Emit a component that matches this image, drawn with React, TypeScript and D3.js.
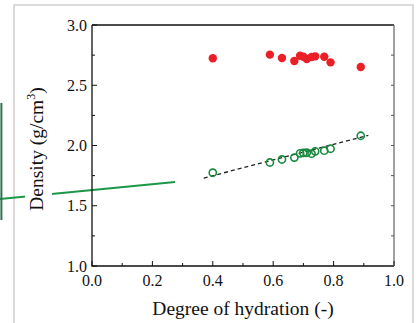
import React, { useEffect, useRef } from 'react';
import * as d3 from 'd3';

// degree of hydration for each sample
const hydration = [0.4, 0.589, 0.629, 0.67, 0.689, 0.7, 0.711, 0.727, 0.739, 0.769, 0.79, 0.89];
// solid (red) and bulk (green) density, g/cm3
const solidDensity = [2.724, 2.754, 2.726, 2.701, 2.745, 2.737, 2.718, 2.734, 2.74, 2.737, 2.69, 2.651];
const bulkDensity = [1.774, 1.859, 1.884, 1.9, 1.935, 1.938, 1.94, 1.932, 1.952, 1.957, 1.973, 2.081];
// linear fit through bulk density
const fitX = [0.37, 0.915];
const fitY = [1.73, 2.085];
// stray green line from the neighbouring panel
const strayX = [-0.305, 0.275];
const strayY = [1.556, 1.697];
const strayBarX = [-0.3, -0.3];
const strayBarY = [2.353, 1.382];

const xTicks = [0, 0.2, 0.4, 0.6, 0.8, 1.0];
const xMinor = [0.1, 0.3, 0.5, 0.7, 0.9];
const yTicks = [1.0, 1.5, 2.0, 2.5, 3.0];
const yMinor = [1.25, 1.75, 2.25, 2.75];

const App = () => {
  const ref = useRef(null);

  useEffect(() => {
    d3.select(ref.current).selectAll('*').remove();

    const W = 419;
    const H = 323;
    const margin = { top: 25, right: 25, bottom: 57, left: 92 };
    const width = W - margin.left - margin.right;
    const height = H - margin.top - margin.bottom;
    const font = '"Liberation Serif", "Times New Roman", serif';

    const svg = d3
      .select(ref.current)
      .append('svg')
      .attr('width', W)
      .attr('height', H)
      .style('position', 'absolute')
      .style('left', 0)
      .style('top', 0)
      .style('background', '#fff');

    const x = d3.scaleLinear().domain([0, 1]).range([margin.left, margin.left + width]);
    const y = d3.scaleLinear().domain([1, 3]).range([margin.top + height, margin.top]);

    // panel frame
    svg
      .append('path')
      .attr('d', `M14,${H + 2} V5 H413 V${H + 2}`)
      .attr('fill', 'none')
      .attr('stroke', '#cfcfcf')
      .attr('stroke-width', 1.5);

    // stray lines
    const line = d3.line<[number, number]>().x((d) => x(d[0])).y((d) => y(d[1]));
    svg
      .append('path')
      .attr('d', line(strayX.map((v, i) => [v, strayY[i]])))
      .attr('stroke', '#1b9747')
      .attr('stroke-width', 2)
      .attr('fill', 'none');
    svg
      .append('path')
      .attr('d', line(strayBarX.map((v, i) => [v, strayBarY[i]])))
      .attr('stroke', '#2f7150')
      .attr('stroke-width', 2)
      .attr('fill', 'none');

    // y title with white backing
    svg.append('rect').attr('x', 25).attr('y', 80).attr('width', 27).attr('height', 140).attr('fill', '#fff');
    const yt = svg
      .append('text')
      .attr('transform', `translate(43,149) rotate(-90)`)
      .attr('text-anchor', 'middle')
      .style('font-family', font)
      .style('font-size', '19.5px')
      .attr('fill', '#111');
    yt.append('tspan').text('Density (g/cm');
    yt.append('tspan').attr('dy', -8).style('font-size', '12px').text('3');
    yt.append('tspan').attr('dy', 8).text(')');

    // axes box
    const x0 = x(0), x1 = x(1), y0 = y(1), y1 = y(3);
    svg.append('path').attr('d', `M${x0},${y1} H${x1}`).attr('stroke', '#111').attr('stroke-width', 1.3);
    svg.append('path').attr('d', `M${x0},${y1} V${y0} H${x1}`).attr('fill', 'none').attr('stroke', '#111').attr('stroke-width', 1.3);
    svg.append('path').attr('d', `M${x1},${y1} V${y0}`).attr('stroke', '#888').attr('stroke-width', 1.6);

    // ticks
    xTicks.forEach((t) => {
      svg.append('line').attr('x1', x(t)).attr('x2', x(t)).attr('y1', y0).attr('y2', y0 - 5).attr('stroke', '#111');
    });
    xMinor.forEach((t) => {
      svg.append('line').attr('x1', x(t)).attr('x2', x(t)).attr('y1', y0).attr('y2', y0 - 3).attr('stroke', '#111');
    });
    yTicks.forEach((t) => {
      svg.append('line').attr('x1', x0).attr('x2', x0 + 5).attr('y1', y(t)).attr('y2', y(t)).attr('stroke', '#111');
      svg.append('line').attr('x1', x1).attr('x2', x1 - 3).attr('y1', y(t)).attr('y2', y(t)).attr('stroke', '#555');
    });
    yMinor.forEach((t) => {
      svg.append('line').attr('x1', x0).attr('x2', x0 + 3).attr('y1', y(t)).attr('y2', y(t)).attr('stroke', '#111');
      svg.append('line').attr('x1', x1).attr('x2', x1 - 3).attr('y1', y(t)).attr('y2', y(t)).attr('stroke', '#555');
    });

    // tick labels
    svg
      .selectAll('.xl')
      .data(xTicks)
      .enter()
      .append('text')
      .attr('x', (d) => x(d))
      .attr('y', 286)
      .attr('text-anchor', 'middle')
      .style('font-family', font)
      .style('font-size', '16px')
      .attr('fill', '#111')
      .text((d) => d3.format('.1f')(d));
    svg
      .selectAll('.yl')
      .data(yTicks)
      .enter()
      .append('text')
      .attr('x', 87)
      .attr('y', (d) => y(d) + 5.5)
      .attr('text-anchor', 'end')
      .style('font-family', font)
      .style('font-size', '16px')
      .attr('fill', '#111')
      .text((d) => d3.format('.1f')(d));

    // x title
    svg
      .append('text')
      .attr('x', 243)
      .attr('y', 315)
      .attr('text-anchor', 'middle')
      .style('font-family', font)
      .style('font-size', '19.5px')
      .attr('fill', '#111')
      .text('Degree of hydration (-)');

    // fit line
    svg
      .append('path')
      .attr('d', line(fitX.map((v, i) => [v, fitY[i]])))
      .attr('stroke', '#222')
      .attr('stroke-width', 1.3)
      .attr('stroke-dasharray', '4,3')
      .attr('fill', 'none');

    // solid density
    svg
      .selectAll('.red')
      .data(hydration)
      .enter()
      .append('circle')
      .attr('cx', (d) => x(d))
      .attr('cy', (d, i) => y(solidDensity[i]))
      .attr('r', 4.2)
      .attr('fill', '#ec1f27');

    // bulk density
    svg
      .selectAll('.green')
      .data(hydration)
      .enter()
      .append('circle')
      .attr('cx', (d) => x(d))
      .attr('cy', (d, i) => y(bulkDensity[i]))
      .attr('r', 3.6)
      .attr('fill', 'none')
      .attr('stroke', '#198a3d')
      .attr('stroke-width', 1.6);
  }, []);

  return <div ref={ref}></div>;
};

export default App;
